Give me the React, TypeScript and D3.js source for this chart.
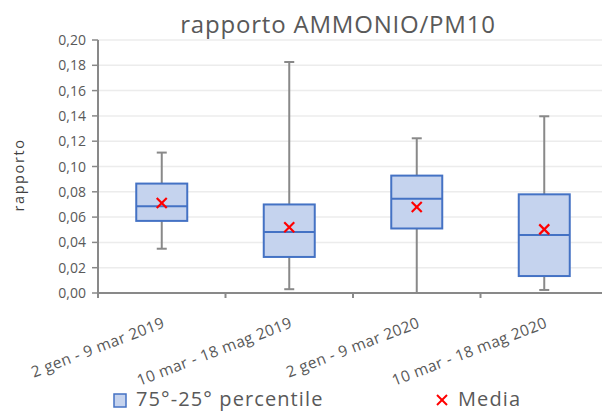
import React from "react";
import * as d3 from "d3";

const categories = ["2 gen - 9 mar 2019", "10 mar - 18 mag 2019", "2 gen - 9 mar 2020", "10 mar - 18 mag 2020"];
const whiskerMin = [0.035, 0.003, 0.0, 0.0024];
const q1 = [0.057, 0.0285, 0.051, 0.0134];
const median = [0.0685, 0.0482, 0.0745, 0.0458];
const q3 = [0.0865, 0.07, 0.0928, 0.078];
const whiskerMax = [0.111, 0.1826, 0.1223, 0.1397];
const mean = [0.0712, 0.052, 0.068, 0.0503];
const yTicks = [0, 0.02, 0.04, 0.06, 0.08, 0.1, 0.12, 0.14, 0.16, 0.18, 0.2];

const W = 602, H = 412;
const FONT = "'Open Sans', 'Liberation Sans', sans-serif";
const TXT = "#595959";

export default function App() {
  const left = 98, right = 608, top = 40, bottom = 293;
  const x = d3.scaleBand<string>().domain(categories).range([left, right]);
  const y = d3.scaleLinear().domain([0, 0.2]).range([bottom, top]);
  const fmt = (v: number) => v.toFixed(2).replace(".", ",");
  const bw = 51;
  const bands = categories.map((c) => x(c)!);
  return (
    <svg width={W} height={H} style={{ position: "absolute", left: 0, top: 0, background: "#fff" }} fontFamily={FONT}>
      <rect width={W} height={H} fill="#fff" />
      <text x={338} y={33} textAnchor="middle" fontSize={24} letterSpacing={0.8} fill={TXT}>rapporto AMMONIO/PM10</text>
      {yTicks.map((t) => (
        <g key={t}>
          {t > 0 && <line x1={left} x2={right} y1={y(t)} y2={y(t)} stroke="#ececec" strokeWidth={1.5} />}
          <line x1={left - 6} x2={left} y1={y(t)} y2={y(t)} stroke="#898989" strokeWidth={1.5} />
          <text x={86} y={y(t)} dy="0.36em" textAnchor="end" fontSize={14} fill={TXT}>{fmt(t)}</text>
        </g>
      ))}
      <text transform={`translate(24,175) rotate(-90)`} textAnchor="middle" fontSize={14.5} letterSpacing={1.6} fill="#404040">rapporto</text>
      {categories.map((c, i) => {
        const cx = bands[i] + x.bandwidth() / 2;
        return (
          <g key={c}>
            <line x1={cx} x2={cx} y1={y(whiskerMax[i])} y2={y(whiskerMin[i])} stroke="#898989" strokeWidth={2} />
            <line x1={cx - 5} x2={cx + 5} y1={y(whiskerMax[i])} y2={y(whiskerMax[i])} stroke="#898989" strokeWidth={2} />
            <line x1={cx - 5} x2={cx + 5} y1={y(whiskerMin[i])} y2={y(whiskerMin[i])} stroke="#898989" strokeWidth={2} />
            <rect x={cx - bw / 2} width={bw} y={y(q3[i])} height={y(q1[i]) - y(q3[i])} fill="#c5d3ee" stroke="#4472c4" strokeWidth={2} />
            <line x1={cx - bw / 2} x2={cx + bw / 2} y1={y(median[i])} y2={y(median[i])} stroke="#4472c4" strokeWidth={2} />
            <g transform={`translate(${cx},${y(mean[i])})`} stroke="#ff0000" strokeWidth={2.2}>
              <line x1={-5} x2={5} y1={-5} y2={5} />
              <line x1={-5} x2={5} y1={5} y2={-5} />
            </g>
            <text transform={`translate(${cx + 4},${bottom + 34}) rotate(-21)`} textAnchor="end" fontSize={15.5} letterSpacing={0.4} fill={TXT}>{c}</text>
          </g>
        );
      })}
      <line x1={left} x2={right} y1={bottom} y2={bottom} stroke="#898989" strokeWidth={2} />
      <line x1={left} x2={left} y1={top} y2={bottom} stroke="#898989" strokeWidth={2} />
      {[...bands, right].map((b, i) => (
        <line key={i} x1={b} x2={b} y1={bottom} y2={bottom + 5} stroke="#898989" strokeWidth={2} />
      ))}
      <rect x={114} y={394} width={12} height={13} fill="#c5d3ee" stroke="#4472c4" strokeWidth={1.5} />
      <text x={136} y={406} fontSize={20} letterSpacing={1.1} fill={TXT}>75°-25° percentile</text>
      <g transform="translate(442,400)" stroke="#ff0000" strokeWidth={2}>
        <line x1={-5} x2={5} y1={-5} y2={5} />
        <line x1={-5} x2={5} y1={5} y2={-5} />
      </g>
      <text x={458} y={406} fontSize={20} letterSpacing={1.1} fill={TXT}>Media</text>
    </svg>
  );
}
